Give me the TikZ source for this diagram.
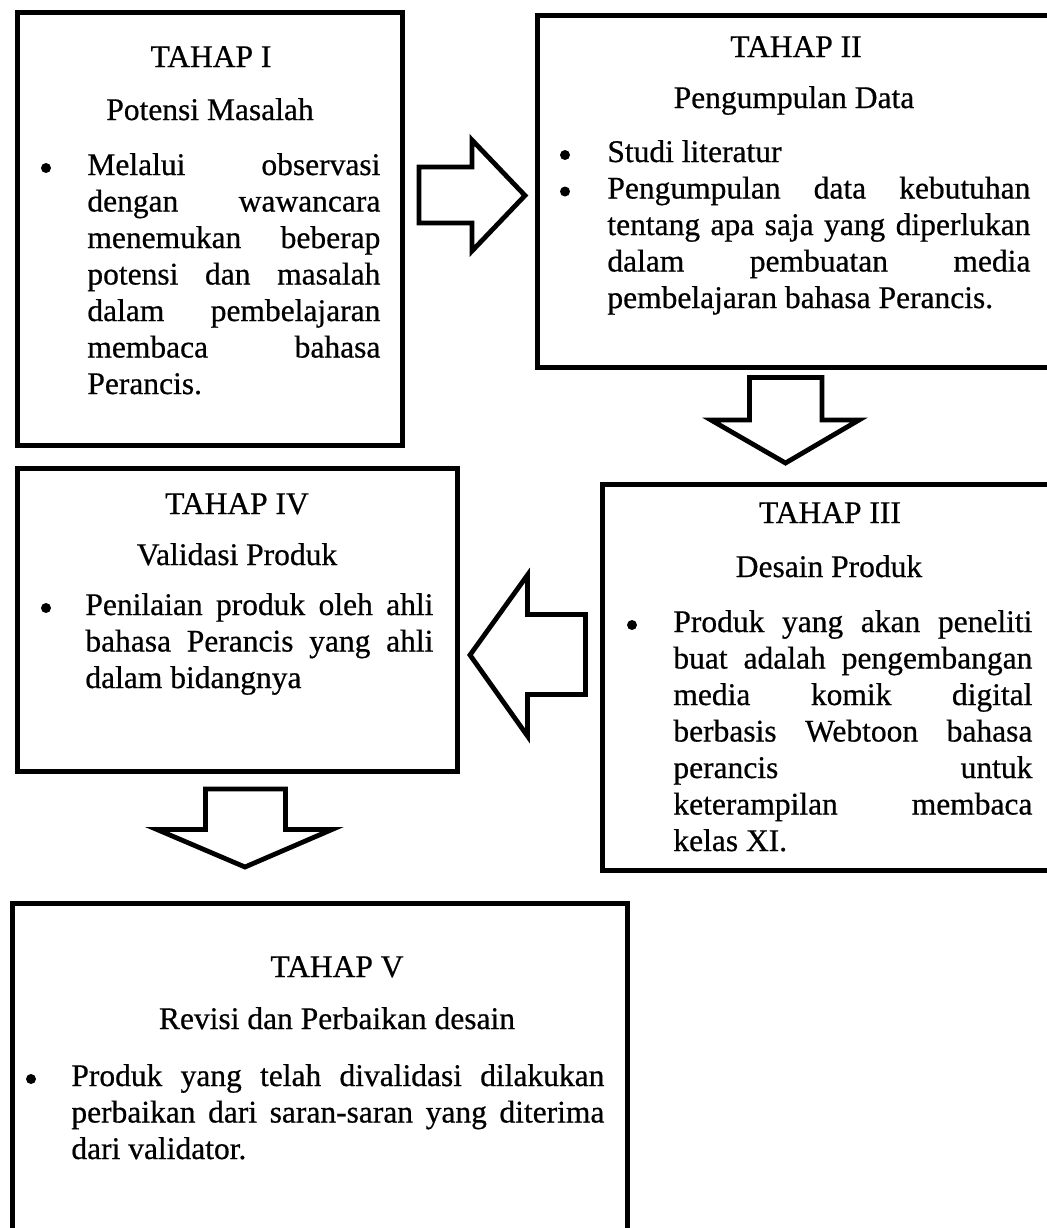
\documentclass[tikz,border=0pt]{standalone}
\usepackage{fontspec}
\setmainfont{Liberation Serif}[FakeBold=0.6]
\usetikzlibrary{fit}
\newcommand\jline[1]{\makebox[\linewidth][s]{#1}\\}
\tikzset{
  box/.style={draw, line width=2.5pt, line join=miter, inner sep=0pt},
  blockarrow/.style={draw, line width=2.4pt, line join=miter, fill=white},
  txt/.style={inner sep=0pt, font=\fontsize{15.75}{18.25}\selectfont},
  ttl/.style={txt, anchor=base},
  bul/.style={circle, fill=black, inner sep=0pt, minimum size=5pt},
  bodytext/.style={txt, anchor=base west},
}
\begin{document}
\begin{tikzpicture}[x=0.5pt,y=-0.5pt]
\useasboundingbox (0,0) rectangle (1047,1228);
\clip (0,0) rectangle (1047,1228);
\fill[white] (0,0) rectangle (1047,1228);

% ---------- boxes ----------
\node[box, fit={(17.5,12.5) (402.5,445.5)}] (b1) {};
\node[box, fit={(537.5,15.5) (1070,367)}] (b2) {};
\node[box, fit={(602.5,484.5) (1070,870.5)}] (b3) {};
\node[box, fit={(17.5,468.5) (457,771)}] (b4) {};
\node[box, fit={(12,903) (627,1260)}] (b5) {};

% ---------- TAHAP I ----------
\node[ttl] (t1) at (211,67) {TAHAP I};
\node[ttl] (s1) at (210,120) {Potensi Masalah};
\node[bul] (p1) at (46,168) {};
\node[bodytext] (x1) at (87,175) {\parbox[t]{146.5pt}{%
\jline{Melalui observasi}%
\jline{dengan wawancara}%
\jline{menemukan beberap}%
\jline{potensi dan masalah}%
\jline{dalam pembelajaran}%
\jline{membaca bahasa}%
Perancis.}};

% ---------- TAHAP II ----------
\node[ttl] (t2) at (796,57) {TAHAP II};
\node[ttl] (s2) at (794,108) {Pengumpulan Data};
\node[bul] (p2a) at (565,155) {};
\node[bul] (p2b) at (565,191.5) {};
\node[bodytext] (x2a) at (607,162) {Studi literatur};
\node[bodytext] (x2b) at (607,198.5) {\parbox[t]{211.5pt}{%
\jline{Pengumpulan data kebutuhan}%
\jline{tentang apa saja yang diperlukan}%
\jline{dalam pembuatan media}%
pembelajaran bahasa Perancis.}};

% ---------- TAHAP III ----------
\node[ttl] (t3) at (830,523) {TAHAP III};
\node[ttl] (s3) at (829,577) {Desain Produk};
\node[bul] (p3) at (632,625) {};
\node[bodytext] (x3) at (673,632) {\parbox[t]{179.5pt}{%
\jline{Produk yang akan peneliti}%
\jline{buat adalah pengembangan}%
\jline{media komik digital}%
\jline{berbasis Webtoon bahasa}%
\jline{perancis untuk}%
\jline{keterampilan membaca}%
kelas XI.}};

% ---------- TAHAP IV ----------
\node[ttl] (t4) at (237,514) {TAHAP IV};
\node[ttl] (s4) at (237,565) {Validasi Produk};
\node[bul] (p4) at (46,608) {};
\node[bodytext] (x4) at (85,615) {\parbox[t]{174pt}{%
\jline{Penilaian produk oleh ahli}%
\jline{bahasa Perancis yang ahli}%
dalam bidangnya}};

% ---------- TAHAP V ----------
\node[ttl] (t5) at (337,977) {TAHAP V};
\node[ttl] (s5) at (337,1029) {Revisi dan Perbaikan desain};
\node[bul] (p5) at (31,1079) {};
\node[bodytext] (x5) at (71,1086) {\parbox[t]{266.5pt}{%
\jline{Produk yang telah divalidasi dilakukan}%
\jline{perbaikan dari saran-saran yang diterima}%
dari validator.}};

% ---------- block arrows ----------
\draw[blockarrow] (419,167) -- (472,167) -- (472,140) -- (525,195.5)
  -- (472,251) -- (472,223) -- (419,223) -- cycle;
\draw[blockarrow] (749.5,377.5) -- (822,377.5) -- (822,420) -- (859,420)
  -- (785.5,463) -- (711,420) -- (749.5,420) -- cycle;
\draw[blockarrow] (585.5,614.5) -- (527.5,614.5) -- (527.5,575) -- (470,655)
  -- (527.5,736) -- (527.5,694.5) -- (585.5,694.5) -- cycle;
\draw[blockarrow] (205.5,789) -- (285.5,789) -- (285.5,829.5) -- (332,829.5)
  -- (245,867) -- (157,829.5) -- (205.5,829.5) -- cycle;
\end{tikzpicture}
\end{document}
